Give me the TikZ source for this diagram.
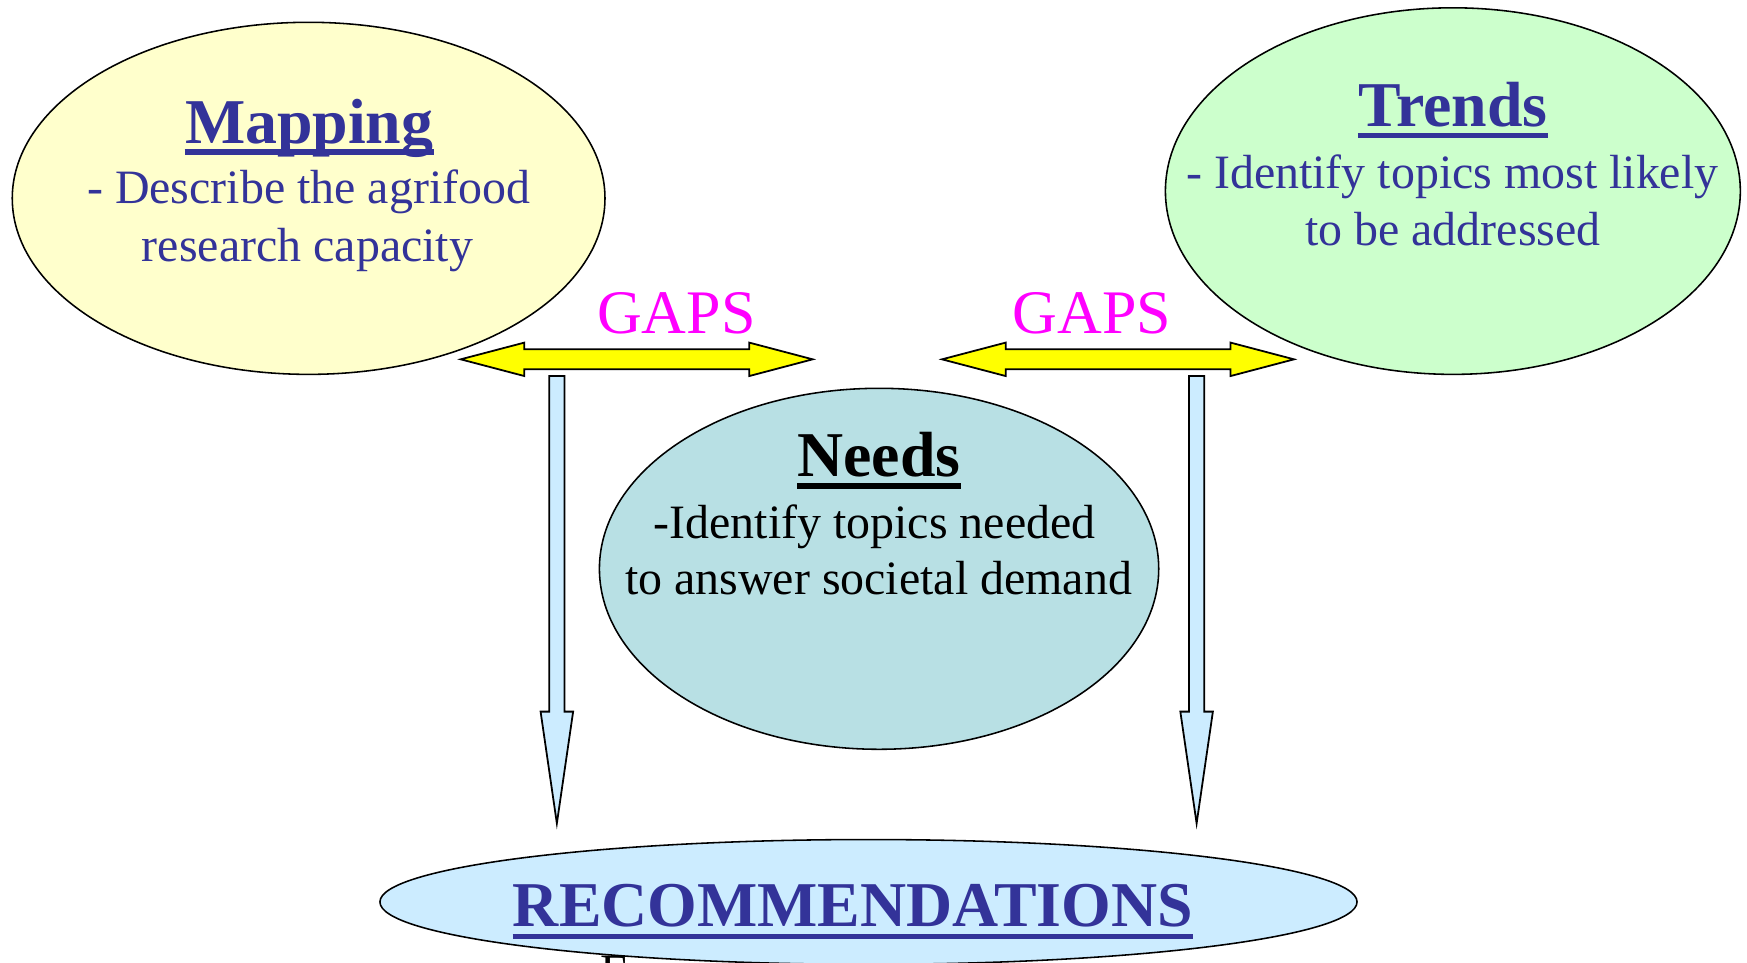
\documentclass[tikz,border=0pt]{standalone}
\usepackage{fontspec}
\setmainfont{Liberation Serif}
\usetikzlibrary{shapes.geometric}
\definecolor{tblue}{HTML}{333399}
\definecolor{mapfill}{HTML}{FFFFCC}
\definecolor{trendfill}{HTML}{CCFFCC}
\definecolor{needfill}{HTML}{B8E0E4}
\definecolor{recfill}{HTML}{CCECFF}
\definecolor{gapmag}{HTML}{FF00FF}
\definecolor{arryellow}{HTML}{FFFF00}
\definecolor{arrblue}{HTML}{CCECFF}
\begin{document}
\begin{tikzpicture}[x=0.5pt,y=-0.5pt,
 blob/.style={ellipse, draw=black, line width=0.7pt, inner sep=0pt},
 headtxt/.style={font=\fontsize{28.65}{34}\selectfont\bfseries, anchor=base, inner sep=0pt},
 bodytxt/.style={font=\fontsize{21.5}{25}\selectfont, anchor=base, inner sep=0pt},
 gapstxt/.style={font=\fontsize{27.8}{33}\selectfont, text=gapmag, anchor=base, inner sep=0pt},
 uline/.style={line width=2.5pt},
 yarrow/.style={draw=black, fill=arryellow, line width=0.8pt},
 barrow/.style={draw=black, fill=arrblue, line width=0.8pt}]
\useasboundingbox (0,0) rectangle (1568,864);

% partially visible text at the bottom
\node[bodytxt, anchor=base west] (ex) at (538.5,886.5) {Ex};

% ellipses
\node[blob, fill=mapfill, minimum width=266pt, minimum height=158pt] (map) at (277,178) {};
\node[blob, fill=trendfill, minimum width=258pt, minimum height=164.5pt] (trend) at (1304,171.5) {};
\node[blob, fill=needfill, minimum width=251pt, minimum height=162pt] (need) at (789,510.5) {};
\node[blob, fill=recfill, minimum width=438.5pt, minimum height=56pt] (rec) at (779.5,809.5) {};

% yellow double arrows
\coordinate (gapL) at (413.5,322.5);
\coordinate (gapR) at (845.5,322.5);
\foreach \c in {gapL,gapR}{
 \draw[yarrow] (\c) -- ++(57.1,-15) -- ++(0,6) -- ++(201.9,0) -- ++(0,-6) -- ++(56.9,15)
   -- ++(-56.9,15) -- ++(0,-6) -- ++(-201.9,0) -- ++(0,6) -- cycle;
}

% blue down arrows
\coordinate (dnL) at (493,337.5);
\coordinate (dnR) at (1067.2,337.5);
\foreach \c in {dnL,dnR}{
 \draw[barrow] (\c) -- ++(13.6,0) -- ++(0,301.2) -- ++(7.8,0) -- ++(-14.6,100.3)
   -- ++(-14.6,-100.3) -- ++(7.8,0) -- cycle;
}

% GAPS labels
\node[gapstxt] (gap1) at (607,299) {GAPS};
\node[gapstxt] (gap2) at (980,299) {GAPS};

% Mapping
\node[headtxt, text=tblue] (maph) at (277.5,128.6) {Mapping};
\draw[tblue, uline] ([yshift=-4pt]maph.base west) -- ([yshift=-4pt]maph.base east);
\node[bodytxt, text=tblue] (map1) at (277,183) {- Describe the agrifood};
\node[bodytxt, text=tblue] (map2) at (276,235) {research capacity};

% Trends
\node[headtxt, text=tblue] (trh) at (1304,113.7) {Trends};
\draw[tblue, uline] ([yshift=-4pt]trh.base west) -- ([yshift=-4pt]trh.base east);
\node[bodytxt, text=tblue] (tr1) at (1303.5,169) {- Identify topics most likely};
\node[bodytxt, text=tblue] (tr2) at (1304,220) {to be addressed};

% Needs
\node[headtxt] (ndh) at (789,428) {Needs};
\draw[black, uline] ([yshift=-4pt]ndh.base west) -- ([yshift=-4pt]ndh.base east);
\node[bodytxt] (nd1) at (785,483) {-Identify topics needed};
\node[bodytxt] (nd2) at (788.5,534) {to answer societal demand};

% Recommendations
\node[headtxt, text=tblue] (rech) at (765.5,831.7) {RECOMMENDATIONS};
\draw[tblue, uline] ([yshift=-4.5pt]rech.base west) -- ([yshift=-4.5pt]rech.base east);
\end{tikzpicture}
\end{document}
